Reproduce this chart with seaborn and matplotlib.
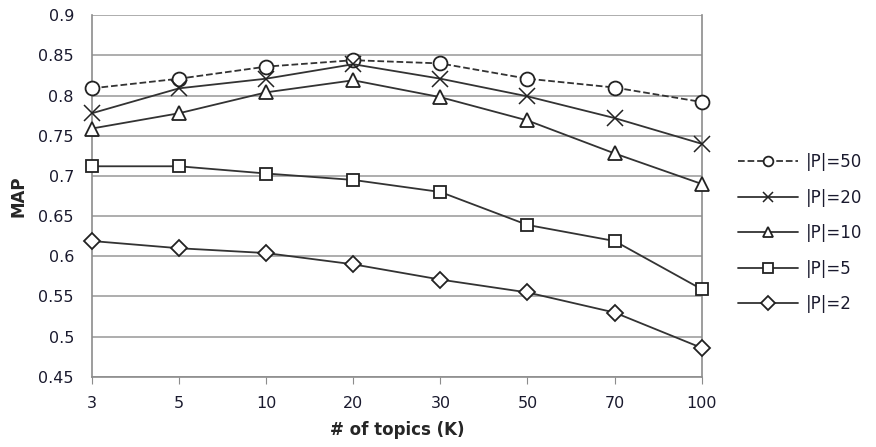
import numpy as np
import pandas as pd
import matplotlib
matplotlib.use("Agg")
import matplotlib.pyplot as plt
import seaborn as sns

# Data
topics = ["3", "5", "10", "20", "30", "50", "70", "100"]
p50 = [0.809, 0.821, 0.836, 0.844, 0.840, 0.821, 0.810, 0.792]
p20 = [0.778, 0.809, 0.821, 0.839, 0.821, 0.799, 0.772, 0.740]
p10 = [0.759, 0.778, 0.804, 0.819, 0.798, 0.769, 0.728, 0.690]
p5 = [0.712, 0.712, 0.703, 0.695, 0.680, 0.639, 0.619, 0.559]
p2 = [0.619, 0.610, 0.604, 0.590, 0.571, 0.555, 0.530, 0.486]
series = ["|P|=50", "|P|=20", "|P|=10", "|P|=5", "|P|=2"]

sns.set_style("white")
plt.rcParams['font.family'] = ['DejaVu Sans']

rows = []
for name, vals in zip(series, [p50, p20, p10, p5, p2]):
    for i, v in enumerate(vals):
        rows.append({"pos": i, "MAP": v, "series": name})
df = pd.DataFrame(rows)

fig = plt.figure(figsize=(8.76, 4.47), dpi=100)
ax = fig.add_axes([0.105, 0.157, 0.696, 0.809])

markers = {"|P|=50": "o", "|P|=20": "x", "|P|=10": "^", "|P|=5": "s", "|P|=2": "D"}
sizes = {"|P|=50": 10, "|P|=20": 12, "|P|=10": 10, "|P|=5": 8.5, "|P|=2": 8.5}

for name in series:
    sub = df[df["series"] == name]
    sns.lineplot(data=sub, x="pos", y="MAP", ax=ax, color="#333333", lw=1.3,
                 marker=markers[name], markersize=sizes[name],
                 markerfacecolor="white", markeredgecolor="#222222",
                 markeredgewidth=1.3 if name != "|P|=20" else 1.1,
                 linestyle="--" if name == "|P|=50" else "-",
                 label=name, clip_on=False, zorder=3)

ax.set_xlim(0, len(topics) - 1)
ax.set_ylim(0.45, 0.9)
yt = np.round(np.arange(0.45, 0.901, 0.05), 2)
ax.set_yticks(yt)
ax.set_yticklabels([f"{t:g}" for t in yt])
ax.set_xticks(range(len(topics)))
ax.set_xticklabels(topics)
ax.yaxis.grid(True, color="#a0a0a0", lw=1.2)
ax.xaxis.grid(False)
ax.set_axisbelow(True)
for s in ["left", "bottom", "right"]:
    ax.spines[s].set_color("#8c8c8c")
    ax.spines[s].set_linewidth(1.2)
ax.spines["top"].set_visible(False)
ax.tick_params(axis="x", bottom=True, length=5, color="#8c8c8c", pad=9,
               labelsize=11.5, labelcolor="#1a1a2e")
ax.tick_params(axis="y", left=False, length=0, pad=13, labelsize=11.5,
               labelcolor="#1a1a2e")
ax.set_xlabel("# of topics (K)", fontweight="bold", fontsize=12, labelpad=7)
ax.set_ylabel("MAP", fontweight="bold", fontsize=12, labelpad=8)

leg = ax.legend(loc="upper left", bbox_to_anchor=(1.035, 0.66), frameon=False,
                handlelength=3.6, labelspacing=1.05, fontsize=12,
                labelcolor="#1a1a2e", handletextpad=0.5)
for h in leg.legend_handles:
    h.set_markersize(7)

fig.savefig("out.png", dpi=100)
